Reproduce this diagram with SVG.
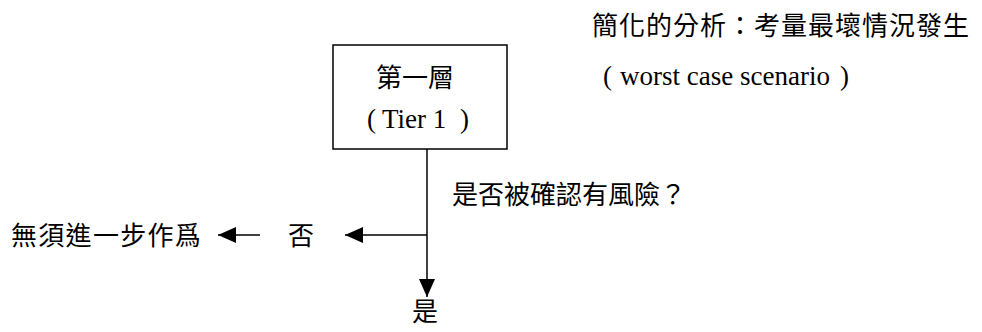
<svg xmlns="http://www.w3.org/2000/svg" width="982" height="332" viewBox="0 0 982 332">
  <style>
    .cjk { font-family: "Noto Sans CJK TC", "Noto Sans CJK SC", sans-serif; font-size: 26px; fill: #000; }
    .ser { font-family: "Liberation Serif", "Times New Roman", serif; font-size: 27px; fill: #000; }
    .box { fill: #fff; stroke: #000; stroke-width: 1.5; }
    .ln { stroke: #000; stroke-width: 1.5; fill: none; }
  </style>
  <defs>
    <marker id="arrow" viewBox="0 0 18 16" refX="18" refY="8" markerWidth="18" markerHeight="16" markerUnits="userSpaceOnUse" orient="auto">
      <path d="M0,0 L18,8 L0,16 z" fill="#000"/>
    </marker>
  </defs>
  <rect width="982" height="332" fill="#fff"/>

  <g id="note">
    <text class="cjk" x="592" y="35" letter-spacing="1">簡化的分析：考量最壞情況發生</text>
    <text class="ser" x="603" y="85">(</text>
    <text class="ser" x="620" y="85">worst case scenario</text>
    <text class="ser" x="840" y="85">)</text>
  </g>

  <g id="tier1">
    <rect class="box" x="333" y="45" width="174" height="104"/>
    <text class="cjk" x="415" y="87" text-anchor="middle">第一層</text>
    <text class="ser" x="367" y="128">(</text>
    <text class="ser" x="382" y="128">Tier 1</text>
    <text class="ser" x="460" y="128">)</text>
  </g>

  <g id="question">
    <text class="cjk" x="452" y="204">是否被確認有風險？</text>
  </g>

  <g id="no-label">
    <text class="cjk" x="288" y="245">否</text>
  </g>

  <g id="no-action">
    <text class="cjk" x="11" y="245" letter-spacing="1.3">無須進一步作爲</text>
  </g>

  <g id="yes-label">
    <text class="cjk" x="412" y="321">是</text>
  </g>

  <g id="connectors">
    <line class="ln" x1="427" y1="149" x2="427" y2="297" marker-end="url(#arrow)"/>
    <line class="ln" x1="427" y1="235" x2="345" y2="235" marker-end="url(#arrow)"/>
    <line class="ln" x1="260" y1="235" x2="218" y2="235" marker-end="url(#arrow)"/>
  </g>
</svg>
